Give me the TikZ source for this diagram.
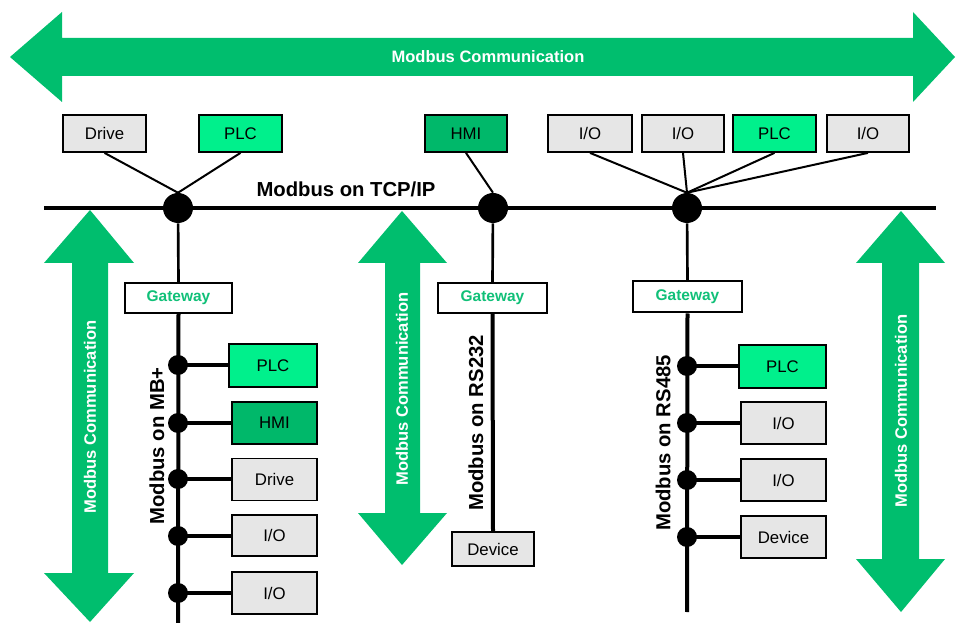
\documentclass[tikz,border=0pt]{standalone}
\usepackage{fontspec}
\setmainfont{Liberation Sans}
\definecolor{arrowgreen}{HTML}{00BE6E}
\definecolor{plcgreen}{HTML}{00F08C}
\definecolor{hmigreen}{HTML}{00B86A}
\definecolor{boxgray}{HTML}{E6E6E6}
\definecolor{gwtext}{HTML}{10C078}
\begin{document}
\begin{tikzpicture}[x=0.75pt,y=-0.75pt,
  box/.style={draw=black, line width=1.35pt, inner sep=0pt, font=\fontsize{12.6pt}{14pt}\selectfont},
  graybox/.style={box, fill=boxgray},
  plcbox/.style={box, fill=plcgreen},
  hmibox/.style={box, fill=hmigreen},
  gwbox/.style={draw=black, line width=1.5pt, fill=white, inner sep=0pt, text=gwtext, font=\fontsize{11.6pt}{13pt}\selectfont\bfseries},
  bigdot/.style={circle, fill=black, inner sep=0pt, minimum size=22.5pt},
  smalldot/.style={circle, fill=black, inner sep=0pt, minimum size=15pt},
  thinline/.style={line width=1.5pt},
  midline/.style={line width=2pt},
  thickline/.style={line width=3pt},
  arrowfill/.style={fill=arrowgreen, draw=none},
  arrowtext/.style={text=white, font=\fontsize{12.4pt}{14pt}\selectfont\bfseries},
  buslabel/.style={text=black, font=\fontsize{15.2pt}{17pt}\selectfont\bfseries, inner sep=0pt}
]
\useasboundingbox (0,0) rectangle (957,623);

% --- green arrows ---
\fill[arrowfill] (10,57) -- (62,12) -- (62,38) -- (913,38) -- (913,12) -- (955,57)
  -- (913,102) -- (913,76) -- (62,76) -- (62,102) -- cycle;
\node[arrowtext] (toptext) at (488,57) {Modbus Communication};

\fill[arrowfill] (90,210) -- (134,263) -- (108,263) -- (108,573) -- (134,573) -- (90,622)
  -- (44,573) -- (72,573) -- (72,263) -- (44,263) -- cycle;
\node[arrowtext, rotate=90] (lefttext) at (90,417) {Modbus Communication};

\fill[arrowfill] (402,211) -- (447,263) -- (420,263) -- (420,513) -- (447,513) -- (402,565)
  -- (358,513) -- (385,513) -- (385,263) -- (358,263) -- cycle;
\node[arrowtext, rotate=90] (midtext) at (402,389) {Modbus Communication};

\fill[arrowfill] (901,211) -- (945,263) -- (919,263) -- (919,559) -- (945,559) -- (901,612)
  -- (856,559) -- (882,559) -- (882,263) -- (856,263) -- cycle;
\node[arrowtext, rotate=90] (righttext) at (901,411) {Modbus Communication};

% --- top devices ---
\node[graybox, minimum width=62.25pt, minimum height=27.75pt] (drive1) at (104.5,133.5) {Drive};
\node[plcbox, minimum width=62.25pt, minimum height=27.75pt] (plc1) at (240.5,133.5) {PLC};
\node[hmibox, minimum width=61.5pt, minimum height=27.75pt] (hmi1) at (466,133.5) {HMI};
\node[graybox, minimum width=63pt, minimum height=27.75pt] (io1) at (590,133.5) {I/O};
\node[graybox, minimum width=61.5pt, minimum height=27.75pt] (io2) at (683,133.5) {I/O};
\node[plcbox, minimum width=62.25pt, minimum height=27.75pt] (plc2) at (774.5,133.5) {PLC};
\node[graybox, minimum width=61.5pt, minimum height=27.75pt] (io3) at (868,133.5) {I/O};

% --- TCP/IP bus ---
\coordinate (busL) at (44,208);
\coordinate (busR) at (936,208);
\draw[thickline] (busL) -- (busR);
\node[buslabel] (tcplabel) at (346,189) {Modbus on TCP/IP};

\node[bigdot] (d1) at (178,208) {};
\node[bigdot] (d2) at (493,208) {};
\node[bigdot] (d3) at (687,208) {};

\draw[thinline] (drive1.south) -- (d1.north);
\draw[thinline] (plc1.south) -- (d1.north);
\draw[thinline] (hmi1.south) -- (d2.north);
\draw[thinline] (io1.south) -- (d3.north);
\draw[thinline] (io2.south) -- (d3.north);
\draw[thinline] (plc2.south) -- (d3.north);
\draw[thinline] (io3.south) -- (d3.north);

% --- gateways ---
\node[gwbox, minimum width=80.25pt, minimum height=22.5pt] (gw1) at (178.5,298) {Gateway};
\node[gwbox, minimum width=81.75pt, minimum height=22.5pt] (gw2) at (492.5,298) {Gateway};
\node[gwbox, minimum width=81.75pt, minimum height=23.25pt] (gw3) at (687.5,297) {Gateway};

\draw[midline] (d1) -- (gw1.north);
\draw[midline] (d2) -- (gw2.north);
\draw[midline] (d3) -- (gw3.north);

% --- MB+ branch ---
\coordinate (mbend) at (178,623);
\draw[thickline] (gw1.south) -- (mbend);
\node[plcbox, minimum width=66pt, minimum height=32.25pt] (plc3) at (273,365.5) {PLC};
\node[hmibox, minimum width=63.75pt, minimum height=31.5pt] (hmi2) at (274.5,423) {HMI};
\node[graybox, minimum width=63.75pt, minimum height=31.5pt] (drive2) at (274.5,479.5) {Drive};
\node[graybox, minimum width=63.75pt, minimum height=30.75pt] (io4) at (274.5,535.5) {I/O};
\node[graybox, minimum width=63.75pt, minimum height=31.5pt] (io5) at (274.5,593) {I/O};
\node[smalldot] (m1) at (178,365) {};
\node[smalldot] (m2) at (178,423) {};
\node[smalldot] (m3) at (178,479) {};
\node[smalldot] (m4) at (178,536) {};
\node[smalldot] (m5) at (178,593) {};
\draw[thickline] (m1.center) -- (m1.center -| plc3.west);
\draw[thickline] (m2.center) -- (m2.center -| hmi2.west);
\draw[thickline] (m3.center) -- (m3.center -| drive2.west);
\draw[thickline] (m4.center) -- (m4.center -| io4.west);
\draw[thickline] (m5.center) -- (m5.center -| io5.west);
\node[buslabel, rotate=90] (mblabel) at (157,446) {Modbus on MB+};

% --- RS232 branch ---
\node[graybox, minimum width=61.5pt, minimum height=25.5pt] (dev1) at (493,549) {Device};
\draw[thickline] (gw2.south) -- (dev1.north);
\node[buslabel, rotate=90] (rs232label) at (476,423) {Modbus on RS232};

% --- RS485 branch ---
\coordinate (rsend) at (687,612);
\draw[thickline] (gw3.south) -- (rsend);
\node[plcbox, minimum width=65.25pt, minimum height=32.25pt] (plc4) at (782.5,366.5) {PLC};
\node[graybox, minimum width=63.75pt, minimum height=31.5pt] (io6) at (783.5,423) {I/O};
\node[graybox, minimum width=63.75pt, minimum height=31.5pt] (io7) at (783.5,480) {I/O};
\node[graybox, minimum width=63.75pt, minimum height=31.5pt] (dev2) at (783.5,537) {Device};
\node[smalldot] (r1) at (687,366) {};
\node[smalldot] (r2) at (687,423) {};
\node[smalldot] (r3) at (687,480) {};
\node[smalldot] (r4) at (687,537) {};
\draw[thickline] (r1.center) -- (r1.center -| plc4.west);
\draw[thickline] (r2.center) -- (r2.center -| io6.west);
\draw[thickline] (r3.center) -- (r3.center -| io7.west);
\draw[thickline] (r4.center) -- (r4.center -| dev2.west);
\node[buslabel, rotate=90] (rs485label) at (663,443) {Modbus on RS485};
\end{tikzpicture}
\end{document}
